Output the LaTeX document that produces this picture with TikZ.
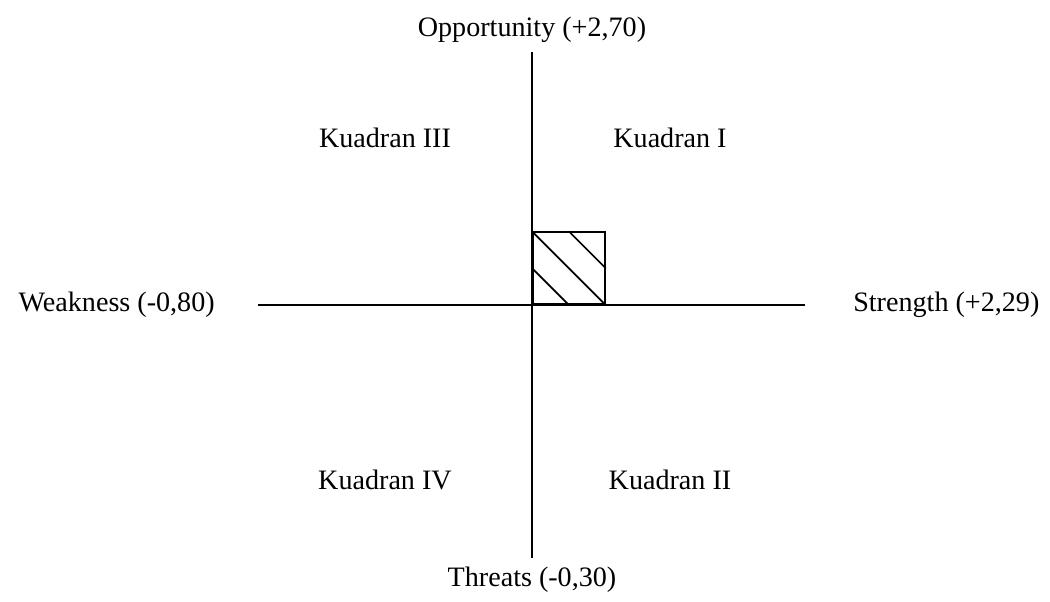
\documentclass[tikz,border=0pt]{standalone}
\usepackage{fontspec}
\setmainfont{Liberation Serif}

\begin{document}
\begin{tikzpicture}[
    axisline/.style={line width=1.2pt},
    label/.style={font=\fontsize{20}{24}\selectfont, inner sep=0pt},
    quadlabel/.style={font=\fontsize{20}{24}\selectfont, inner sep=0pt},
    posbox/.style={draw, line width=1.2pt, minimum size=1.8cm, inner sep=0pt, anchor=south west},
]
    \useasboundingbox (-13.3, -7.4) rectangle (12.95, 7.625);

    \coordinate (top) at (0, 6.325);
    \coordinate (bottom) at (0, -6.325);
    \coordinate (left) at (-6.85, 0);
    \coordinate (right) at (6.825, 0);

    \draw[axisline] (top) -- (bottom);
    \draw[axisline] (left) -- (right);

    \node[label] (opp) at (0, 6.875) {Opportunity (+2,70)};
    \node[label] (thr) at (0, -6.875) {Threats (-0,30)};
    \node[label, anchor=east] (weak) at (-7.925, 0) {Weakness (-0,80)};
    \node[label, anchor=west] (str) at (8.025, 0) {Strength (+2,29)};

    \node[quadlabel] (q3) at (-3.675, 4.175) {Kuadran III};
    \node[quadlabel] (q1) at (3.45, 4.175) {Kuadran I};
    \node[quadlabel] (q4) at (-3.675, -4.375) {Kuadran IV};
    \node[quadlabel] (q2) at (3.45, -4.375) {Kuadran II};

    \node[posbox] (pos) at (0, 0) {};
    \draw[line width=1.2pt] (pos.north west) -- (pos.south east);
    \draw[line width=1.2pt] (pos.north) -- (pos.east);
    \draw[line width=1.2pt] (pos.west) -- (pos.south);

\end{tikzpicture}
\end{document}
